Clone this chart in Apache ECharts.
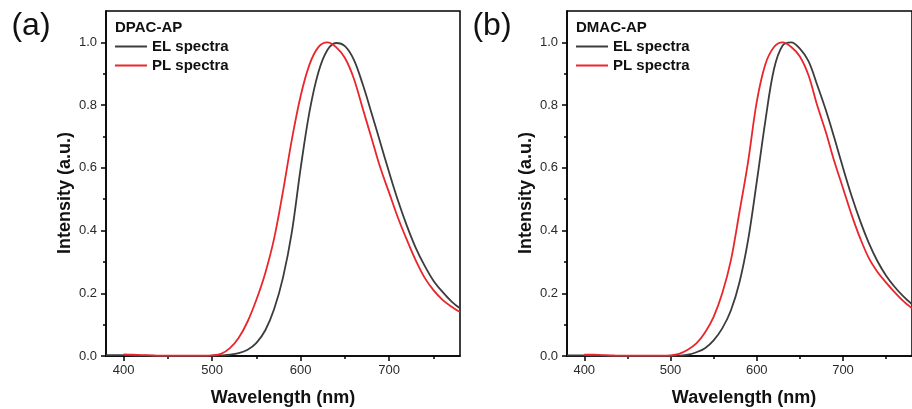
<!DOCTYPE html>
<html>
<head>
<meta charset="utf-8">
<script src="https://cdn.jsdelivr.net/npm/echarts@6/dist/echarts.min.js"></script>
<style>
  html, body { margin: 0; padding: 0; background: #fff; }
  #chart { width: 912px; height: 409px; }
</style>
</head>
<body>
<div id="chart"></div>
<script>
// ---- data ----
const wavelengths = [380, 390, 400, 410, 420, 430, 440, 450, 460, 470, 480, 490, 500, 510, 520, 530, 540, 550, 560, 570, 580, 590, 600, 610, 620, 630, 640, 650, 660, 670, 680, 690, 700, 710, 720, 730, 740, 750, 760, 770, 780];

const dpacEL = [0.003, 0.003, 0.003, 0.002, 0.001, 0.001, 0, 0, 0, 0, 0, 0, 0.001, 0.002, 0.004, 0.009, 0.020, 0.042, 0.082, 0.150, 0.250, 0.395, 0.600, 0.780, 0.905, 0.975, 0.998, 0.988, 0.945, 0.867, 0.775, 0.680, 0.585, 0.495, 0.415, 0.345, 0.288, 0.240, 0.205, 0.175, 0.152];
const dpacPL = [null, null, 0.005, 0.004, 0.003, 0.002, 0.001, 0.001, 0.001, 0.001, 0.001, 0.001, 0.002, 0.007, 0.025, 0.058, 0.110, 0.180, 0.265, 0.375, 0.525, 0.690, 0.830, 0.930, 0.985, 1.000, 0.985, 0.950, 0.885, 0.790, 0.695, 0.600, 0.520, 0.440, 0.370, 0.305, 0.250, 0.210, 0.180, 0.158, 0.140];

const dmacEL = [0.002, 0.002, 0.002, 0.001, 0.001, 0, 0, 0, 0, 0, 0, 0, 0, 0.001, 0.004, 0.012, 0.025, 0.050, 0.088, 0.145, 0.235, 0.370, 0.555, 0.750, 0.915, 0.990, 1.000, 0.980, 0.940, 0.865, 0.785, 0.695, 0.600, 0.510, 0.430, 0.360, 0.302, 0.256, 0.220, 0.190, 0.165];
const dmacPL = [null, null, 0.004, 0.004, 0.003, 0.002, 0.001, 0.001, 0.001, 0.001, 0.001, 0.001, 0.002, 0.007, 0.020, 0.040, 0.075, 0.125, 0.200, 0.305, 0.460, 0.620, 0.810, 0.930, 0.985, 1.000, 0.985, 0.955, 0.895, 0.800, 0.715, 0.620, 0.535, 0.450, 0.375, 0.312, 0.268, 0.234, 0.203, 0.175, 0.152];

const xMajorTicks = [400, 500, 600, 700];
const xMinorTicks = [450, 550, 650, 750];
const yMajorTicks = [0, 0.2, 0.4, 0.6, 0.8, 1.0];
const yMinorTicks = [0.1, 0.3, 0.5, 0.7, 0.9];
const panelLabels = ['(a)', '(b)'];
const sampleNames = ['DPAC-AP', 'DMAC-AP'];
const seriesNames = ['EL spectra', 'PL spectra'];
const xAxisTitle = 'Wavelength (nm)';
const yAxisTitle = 'Intensity (a.u.)';

// ---- build ----
const FONT = '"Liberation Sans", Arial, sans-serif';
const ELCOLOR = '#3c3c3c';
const PLCOLOR = '#e8262c';
const X_MIN = 380, X_MAX = 780, Y_MIN = 0, Y_MAX = 1.1;

const panels = [
  { left: 106, el: dpacEL, pl: dpacPL },
  { left: 567, el: dmacEL, pl: dmacPL }
];
const PW = 354, TOP = 11, PH = 345;

const grids = [], xAxes = [], yAxes = [], series = [], legends = [], titles = [], graphics = [];

function pairs(vals) {
  return wavelengths.map((w, i) => [w, vals[i]]);
}

panels.forEach((p, k) => {
  grids.push({ left: p.left, top: TOP, width: PW, height: PH, show: true,
    borderColor: '#000', borderWidth: 1.5, backgroundColor: 'transparent', containLabel: false });
  grids.push({ left: p.left, top: TOP, width: PW, height: PH, show: false, containLabel: false });
  const gMain = 2 * k, gMinor = 2 * k + 1;

  xAxes.push({
    type: 'value', gridIndex: gMain, min: X_MIN, max: X_MAX, position: 'bottom',
    axisLine: { show: true, onZero: false, lineStyle: { color: '#000', width: 1.5 } },
    axisTick: { show: true, inside: false, length: 5, customValues: xMajorTicks, lineStyle: { color: '#000', width: 1.5 } },
    axisLabel: { show: true, customValues: xMajorTicks, margin: 8, color: '#2a2a2a', fontSize: 13, fontFamily: FONT },
    splitLine: { show: false }
  });
  xAxes.push({
    type: 'value', gridIndex: gMinor, min: X_MIN, max: X_MAX, position: 'bottom',
    axisLine: { show: false, onZero: false },
    axisTick: { show: true, inside: false, length: 3, customValues: xMinorTicks, lineStyle: { color: '#000', width: 1.5 } },
    axisLabel: { show: false },
    splitLine: { show: false }
  });
  yAxes.push({
    type: 'value', gridIndex: gMain, min: Y_MIN, max: Y_MAX, position: 'left',
    axisLine: { show: true, onZero: false, lineStyle: { color: '#000', width: 1.5 } },
    axisTick: { show: true, inside: false, length: 5, customValues: yMajorTicks, lineStyle: { color: '#000', width: 1.5 } },
    axisLabel: { show: true, customValues: yMajorTicks, margin: 9, color: '#2a2a2a', fontSize: 13, fontFamily: FONT,
      formatter: v => Number(v).toFixed(1) },
    splitLine: { show: false }
  });
  yAxes.push({
    type: 'value', gridIndex: gMinor, min: Y_MIN, max: Y_MAX, position: 'left',
    axisLine: { show: false, onZero: false },
    axisTick: { show: true, inside: false, length: 3, customValues: yMinorTicks, lineStyle: { color: '#000', width: 1.5 } },
    axisLabel: { show: false },
    splitLine: { show: false }
  });

  const xi = 2 * k, yi = 2 * k;
  series.push({ name: seriesNames[0], type: 'line', xAxisIndex: xi, yAxisIndex: yi, data: pairs(p.el),
    smooth: 0.35, symbol: 'none', showSymbol: false, lineStyle: { color: ELCOLOR, width: 1.8 }, itemStyle: { color: ELCOLOR },
    silent: true, animation: false, z: 3 });
  series.push({ name: seriesNames[1], type: 'line', xAxisIndex: xi, yAxisIndex: yi, data: pairs(p.pl),
    smooth: 0.35, symbol: 'none', showSymbol: false, lineStyle: { color: PLCOLOR, width: 1.8 }, itemStyle: { color: PLCOLOR },
    silent: true, animation: false, z: 4 });

  legends.push({
    data: seriesNames, orient: 'vertical', left: p.left + 9, top: 38, padding: 0,
    icon: 'rect', itemWidth: 32, itemHeight: 2, itemGap: 2, selectedMode: false,
    textStyle: { fontFamily: FONT, fontSize: 15, fontWeight: 'bold', color: '#111', lineHeight: 17 }
  });
  titles.push({
    text: sampleNames[k], left: p.left + 9, top: 20, padding: 0,
    textStyle: { fontFamily: FONT, fontSize: 15, fontWeight: 'bold', color: '#111' }
  });

  graphics.push({ type: 'text', x: p.left - 41, y: 193, rotation: Math.PI / 2,
    style: { text: yAxisTitle, font: 'bold 18px ' + FONT, fill: '#111', textAlign: 'center', textVerticalAlign: 'middle' } });
  graphics.push({ type: 'text', x: p.left + 177, y: 398,
    style: { text: xAxisTitle, font: 'bold 18px ' + FONT, fill: '#111', textAlign: 'center', textVerticalAlign: 'middle' } });
  graphics.push({ type: 'text', x: p.left - 75, y: 26,
    style: { text: panelLabels[k], font: '32px ' + FONT, fill: '#111', textAlign: 'center', textVerticalAlign: 'middle' } });
});

const chart = echarts.init(document.getElementById('chart'), null, { renderer: 'canvas' });
chart.setOption({
  animation: false,
  backgroundColor: '#fff',
  title: titles,
  legend: legends,
  grid: grids,
  xAxis: xAxes,
  yAxis: yAxes,
  series: series,
  graphic: graphics
});
</script>
</body>
</html>
